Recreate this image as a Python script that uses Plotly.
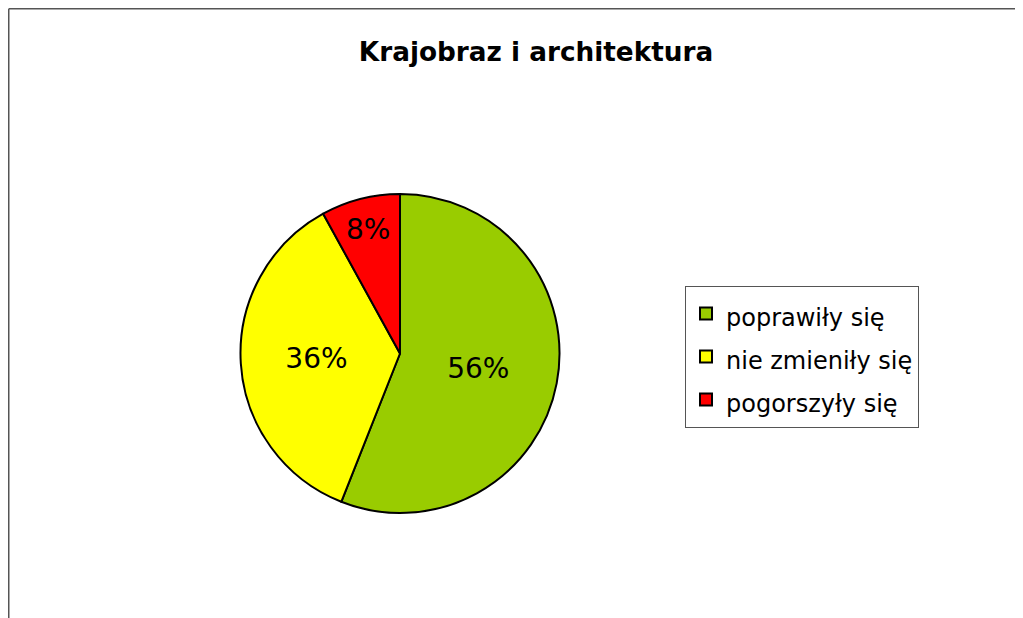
import plotly.graph_objects as go

labels = ["poprawiły się", "nie zmieniły się", "pogorszyły się"]
values = [56, 36, 8]
colors = ["#99CC00", "#FFFF00", "#FF0000"]
title_text = "Krajobraz i architektura"

W, H = 1023, 618
legend_text_px = 24

fig = go.Figure(go.Pie(
    labels=[f'<span style="font-size:{legend_text_px}px">{t}</span>' for t in labels],
    values=values,
    sort=False,
    direction="clockwise",
    rotation=0,
    marker=dict(colors=colors, line=dict(color="black", width=2)),
    textinfo="percent",
    texttemplate="%{percent:.0%}",
    textposition="inside",
    insidetextorientation="horizontal",
    textfont=dict(family="DejaVu Sans", size=28, color="black"),
    domain=dict(x=[232 / W, 552 / W], y=[(H - 505) / H, (H - 186) / H]),
    hoverinfo="percent",
))

fig.update_layout(
    width=W, height=H,
    margin=dict(l=0, r=0, t=0, b=0),
    paper_bgcolor="white",
    plot_bgcolor="white",
    font=dict(family="DejaVu Sans", color="black"),
    title=dict(text="<b>" + title_text + "</b>", x=528 / W, xanchor="center",
               y=1 - 44 / H, yanchor="middle",
               font=dict(family="DejaVu Sans", size=26.3, color="black")),
    legend=dict(x=677 / W, xanchor="left", y=1 - 278 / H, yanchor="top",
                bordercolor="#555555", borderwidth=1, bgcolor="white",
                font=dict(family="DejaVu Sans", size=30.8, color="black"),
                itemsizing="constant", tracegroupgap=0),
    shapes=[
        dict(type="line", xref="paper", yref="paper", x0=0.75 / W, x1=1, y0=1 - 0.75 / H, y1=1 - 0.75 / H,
             line=dict(color="#555555", width=1.5)),
        dict(type="line", xref="paper", yref="paper", x0=0.75 / W, x1=0.75 / W, y0=0, y1=1 - 0.75 / H,
             line=dict(color="#555555", width=1.5)),
    ],
)

fig.write_html("out.html")
